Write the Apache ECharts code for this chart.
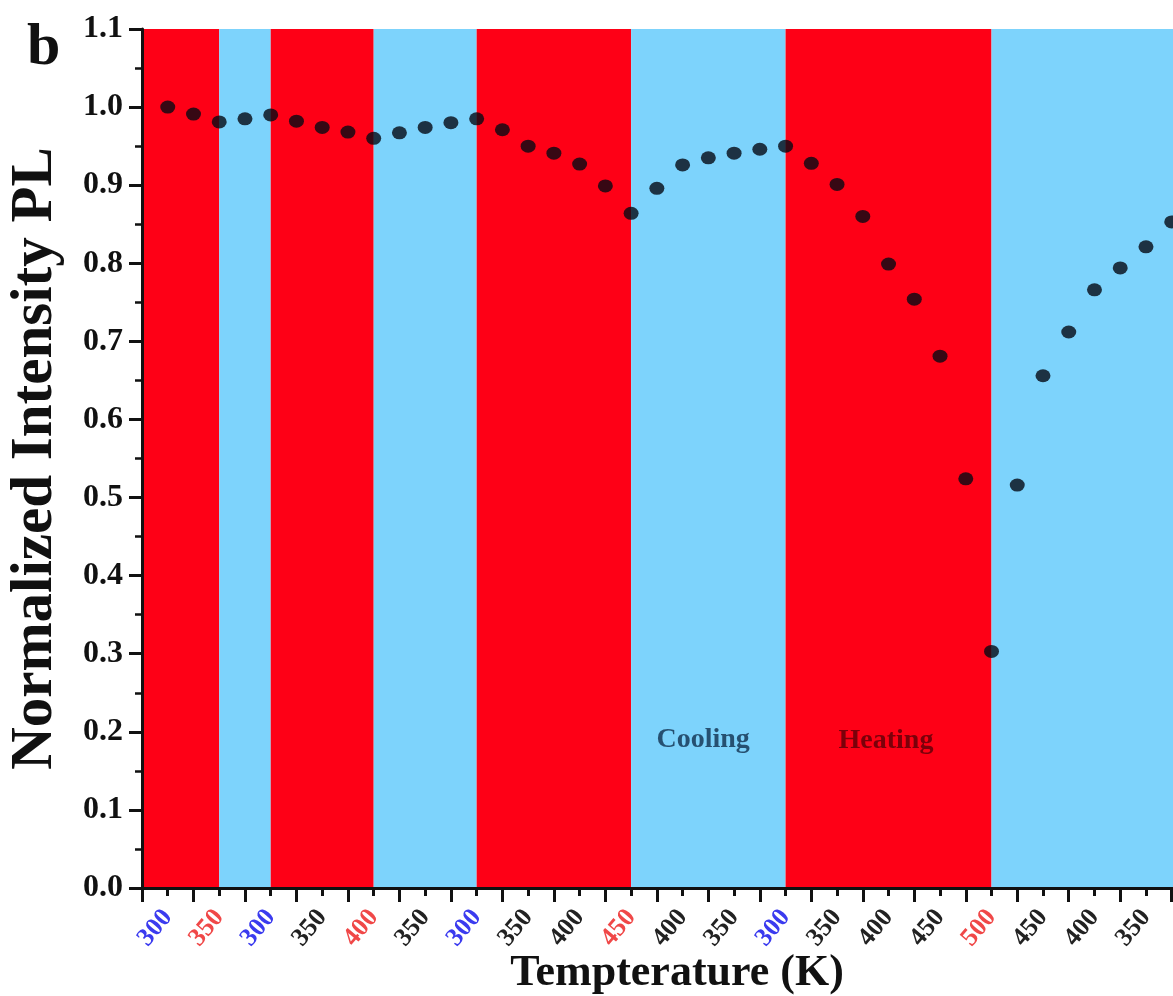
<!DOCTYPE html>
<html>
<head>
<meta charset="utf-8">
<title>Normalized PL intensity during heating/cooling cycles</title>
<script src="https://cdn.jsdelivr.net/npm/echarts@6/dist/echarts.min.js"></script>
<style>
  html, body { margin: 0; padding: 0; background: #fff; }
  #chart { width: 1173px; height: 996px; }
</style>
</head>
<body>
<div id="chart"></div>
<script>
// Normalized PL intensity, one value per measurement step
const intensity = [
  1.000, 0.991, 0.981, 0.985, 0.990, 0.982, 0.974, 0.968, 0.960, 0.967,
  0.974, 0.980, 0.985, 0.971, 0.950, 0.941, 0.927, 0.899, 0.864, 0.896,
  0.926, 0.935, 0.941, 0.946, 0.950, 0.928, 0.901, 0.860, 0.799, 0.754,
  0.681, 0.524, 0.303, 0.516, 0.656, 0.712, 0.766, 0.794, 0.821, 0.853
];

// Temperature labels, one at every second step
const tempLabels = [
  '300', '350', '300', '350', '400', '350', '300', '350', '400', '450',
  '400', '350', '300', '350', '400', '450', '500', '450', '400', '350'
];
// Label tone: b = start of a heating run, r = turning point, k = plain
const labelTone = [
  'b', 'r', 'b', 'k', 'r', 'k', 'b', 'k', 'k', 'r',
  'k', 'k', 'b', 'k', 'k', 'k', 'r', 'k', 'k', 'k'
];

// Heating / cooling phases as [kind, first step, last step]
const phases = [
  ['heat', -1, 2], ['cool', 2, 4], ['heat', 4, 8], ['cool', 8, 12],
  ['heat', 12, 18], ['cool', 18, 24], ['heat', 24, 32], ['cool', 32, null]
];

const X_MIN = -1, X_MAX = 39.05;
const SERIF = "'Liberation Serif', 'Times New Roman', serif";
const INK = '#111';
const HEAT = '#fe0016', COOL = '#7dd3fc';

const points = intensity.map((v, i) => [i, v]);
const labelSteps = tempLabels.map((_, k) => 2 * k);
const minorSteps = [];
for (let s = X_MIN; s <= X_MAX; s += 2) minorSteps.push(s);

const bandData = phases.map(([kind, a, b]) => [
  { xAxis: a, itemStyle: { color: kind === 'heat' ? HEAT : COOL } },
  { xAxis: b === null ? X_MAX : b }
]);

const tickFont = { fontFamily: SERIF, fontWeight: 'bold', fontSize: 26 };

const chart = echarts.init(document.getElementById('chart'), null, { renderer: 'canvas' });
chart.setOption({
  animation: false,
  backgroundColor: '#fff',
  title: {
    text: 'b', left: 22, top: 13,
    textStyle: { fontFamily: SERIF, fontWeight: 'bold', fontSize: 60, color: INK }
  },
  grid: { left: 142, right: 0, top: 29, bottom: 108, containLabel: false, outerBoundsMode: 'none' },
  xAxis: [
    {
      type: 'value', min: X_MIN, max: X_MAX, position: 'bottom', z: 10,
      name: 'Tempterature (K)', nameLocation: 'middle', nameGap: 64,
      nameTextStyle: { fontFamily: SERIF, fontWeight: 'bold', fontSize: 44, color: INK, padding: [0, 0, 0, 39] },
      axisLine: { show: true, onZero: false, lineStyle: { color: INK, width: 3 } },
      axisTick: { show: true, customValues: minorSteps, length: 14, lineStyle: { color: INK, width: 3 } },
      axisLabel: { show: false },
      splitLine: { show: false }
    },
    {
      type: 'value', min: X_MIN, max: X_MAX, position: 'bottom', offset: 0, z: 10,
      axisLine: { show: false, onZero: false },
      axisTick: { show: true, customValues: labelSteps, length: 8, lineStyle: { color: INK, width: 3 } },
      axisLabel: {
        show: true, customValues: labelSteps, rotate: 50, margin: 25,
        ...tickFont, color: '#222',
        formatter: v => {
          const k = Math.round(v / 2);
          return '{' + labelTone[k] + '|' + tempLabels[k] + '}';
        },
        rich: {
          b: { ...tickFont, color: '#3b3bef' },
          r: { ...tickFont, color: '#f04848' },
          k: { ...tickFont, color: '#222' }
        }
      },
      splitLine: { show: false }
    }
  ],
  yAxis: {
    type: 'value', min: 0, max: 1.1, interval: 0.1, z: 10,
    name: 'Normalized Intensity PL', nameLocation: 'middle', nameGap: 77,
    nameTextStyle: { fontFamily: SERIF, fontWeight: 'bold', fontSize: 59, color: INK },
    axisLine: { show: true, onZero: false, lineStyle: { color: INK, width: 3 } },
    axisTick: { show: true, length: 13, lineStyle: { color: INK, width: 3 } },
    minorTick: { show: true, splitNumber: 2, length: 7, lineStyle: { color: INK, width: 2.5 } },
    axisLabel: {
      formatter: v => v.toFixed(1), margin: 19,
      fontFamily: SERIF, fontWeight: 'bold', fontSize: 32, color: INK
    },
    splitLine: { show: false }
  },
  series: [
    {
      name: 'phases', type: 'scatter', data: [], z: 1, silent: true,
      markArea: { silent: true, itemStyle: { opacity: 1 }, data: bandData }
    },
    {
      name: 'PL', type: 'scatter', data: points, z: 5, clip: false,
      symbol: 'circle', symbolSize: [15, 13],
      itemStyle: { color: '#050a14' }
    },
    {
      name: 'notes', type: 'scatter', z: 6, symbolSize: 0, silent: true,
      data: [
        { value: [20.8, 0.19], name: 'Cooling', label: { color: '#10304d' } },
        { value: [27.9, 0.188], name: 'Heating', label: { color: '#5a0008' } }
      ],
      label: {
        show: true, position: 'inside', formatter: '{b}',
        fontFamily: SERIF, fontWeight: 'bold', fontSize: 28
      }
    }
  ]
});
</script>
</body>
</html>
